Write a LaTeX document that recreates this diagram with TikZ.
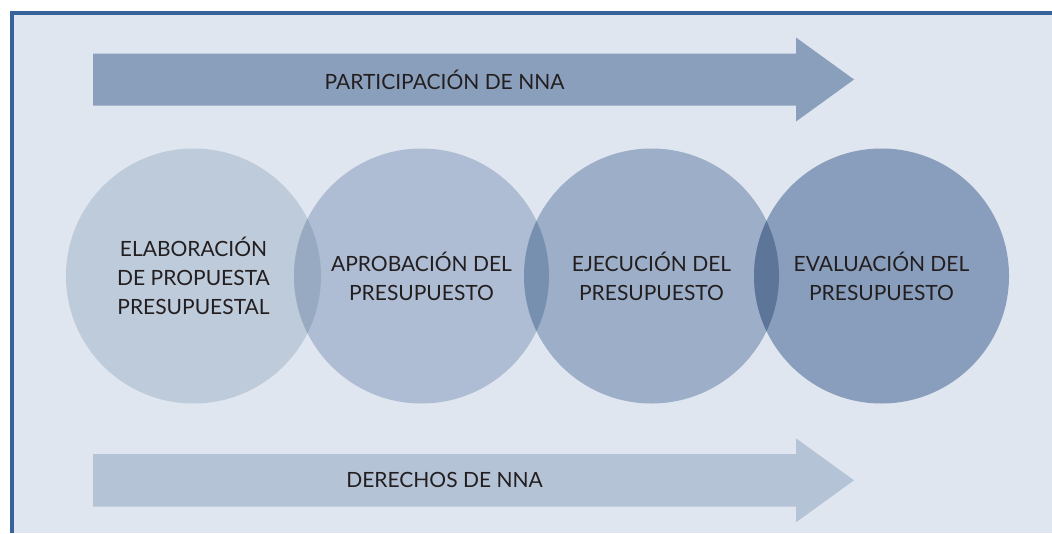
\documentclass[tikz,border=0pt]{standalone}
\usepackage{fontspec}
\setmainfont{Lato}
\usetikzlibrary{positioning}

\definecolor{framebg}{HTML}{DFE6EF}
\definecolor{frameblue}{HTML}{37629A}
\definecolor{arrowdark}{HTML}{8A9FBC}
\definecolor{arrowlight}{HTML}{B5C3D6}
\definecolor{stageA}{HTML}{BECBDB}
\definecolor{stageB}{HTML}{AEBDD3}
\definecolor{stageC}{HTML}{9DAFC8}
\definecolor{stageD}{HTML}{889EBC}
\definecolor{lensAB}{HTML}{97AAC2}
\definecolor{lensBC}{HTML}{7790AF}
\definecolor{lensCD}{HTML}{5D7599}
\definecolor{inktext}{HTML}{231F20}

\tikzset{
  stage/.style={circle, minimum size=255pt, inner sep=0pt, align=center,
    text=inktext, font=\fontsize{21}{29}\selectfont},
  bandtext/.style={text=inktext, font=\fontsize{21}{29}\selectfont}
}

\begin{document}
\begin{tikzpicture}[x=1pt,y=-1pt]
	%frame
	\useasboundingbox (0,0) rectangle (1052,533);
	\fill[framebg] (12,12.8) rectangle (1052,533);
	\draw[frameblue, line width=4.4pt] (12,533) -- (12,12.8) -- (1052,12.8);
	
	%arrows
	\fill[arrowdark] (93,53.5) -- (796,53.5) -- (796,37.5) -- (854,79.5) -- (796,121.5) -- (796,105.5) -- (93,105.5) -- cycle;
	\node[bandtext] (particip) at (444.5,79.5) {PARTICIPACIÓN DE NNA};
	\fill[arrowlight] (93,454) -- (796,454) -- (796,438.3) -- (854,480.3) -- (796,522.3) -- (796,506.7) -- (93,506.7) -- cycle;
	\node[bandtext] (derechos) at (444.5,480.3) {DERECHOS DE NNA};
	
	%stages
	\node[stage, fill=stageA] (elab) at (193.5,276) {ELABORACIÓN\\DE PROPUESTA\\PRESUPUESTAL};
	\node[stage, fill=stageB] (aprob) at (421.5,276) {APROBACIÓN DEL\\PRESUPUESTO};
	\node[stage, fill=stageC] (ejec) at (651.5,276) {EJECUCIÓN DEL\\PRESUPUESTO};
	\node[stage, fill=stageD] (eval) at (881.5,276) {EVALUACIÓN DEL\\PRESUPUESTO};
	
	%overlaps
	\begin{scope}
		\clip (elab.center) circle[radius=127.5pt];
		\fill[lensAB] (aprob.center) circle[radius=127.5pt];
	\end{scope}
	\begin{scope}
		\clip (aprob.center) circle[radius=127.5pt];
		\fill[lensBC] (ejec.center) circle[radius=127.5pt];
	\end{scope}
	\begin{scope}
		\clip (ejec.center) circle[radius=127.5pt];
		\fill[lensCD] (eval.center) circle[radius=127.5pt];
	\end{scope}
\end{tikzpicture}
\end{document}
